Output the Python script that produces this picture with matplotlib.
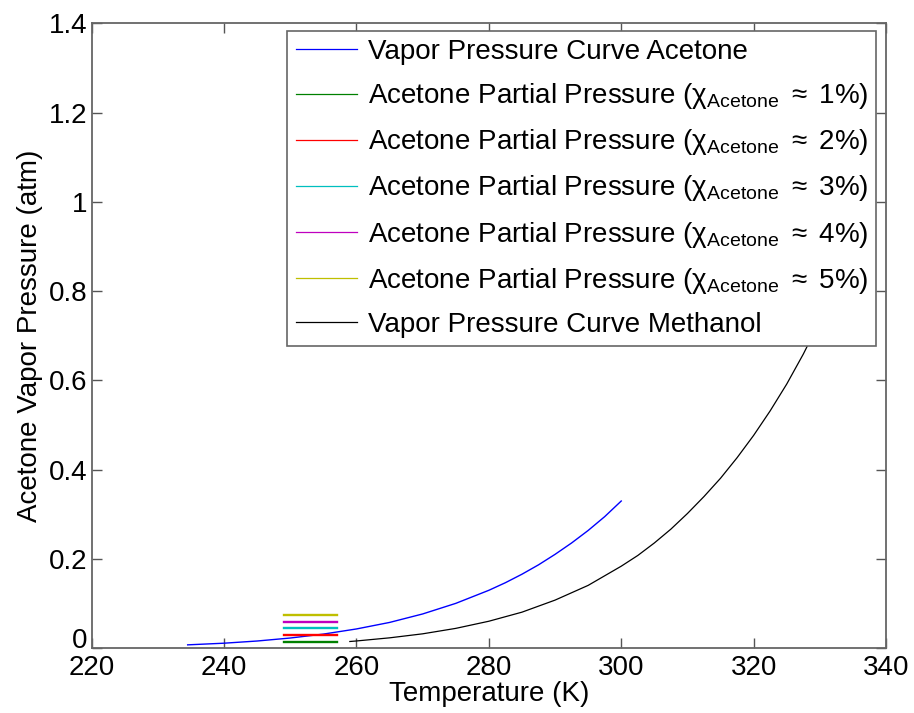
import matplotlib
matplotlib.use("Agg")
import matplotlib.pyplot as plt

plt.rcParams["font.family"] = ["Liberation Sans", "DejaVu Sans"]
plt.rcParams["mathtext.fontset"] = "custom"
plt.rcParams["mathtext.rm"] = "Liberation Sans"
plt.rcParams["mathtext.it"] = "Liberation Sans"

# acetone vapor pressure curve (K, atm)
acetone_T = [234.5, 240, 245, 250, 255, 260, 265, 270, 275, 280, 282.5, 285,
             287.5, 290, 292.5, 295, 297.5, 300]
acetone_P = [0.0078, 0.0115, 0.0164, 0.0231, 0.0319, 0.0434, 0.058, 0.077,
             0.1007, 0.130, 0.147, 0.166, 0.187, 0.2105, 0.236, 0.264, 0.295, 0.330]

# methanol vapor pressure curve (continues under the legend)
methanol_T = [259, 260, 265, 270, 275, 280, 285, 290, 295, 300, 302.5, 305,
              307.5, 310, 312.5, 315, 317.5, 320, 322.5, 325, 327.5, 330, 333.5, 337]
methanol_P = [0.0153, 0.0165, 0.0235, 0.0325, 0.0447, 0.0607, 0.081, 0.108,
              0.141, 0.184, 0.208, 0.236, 0.267, 0.302, 0.340, 0.381, 0.427,
              0.477, 0.532, 0.592, 0.659, 0.733, 0.845, 0.973]

# partial pressure segments
partial_T = [249, 257]
partial_P = [0.015, 0.030, 0.045, 0.060, 0.075]
partial_pct = [1, 2, 3, 4, 5]
partial_colors = ["#008000", "#ff0000", "#00bfbf", "#bf00bf", "#bfbf00"]

x_ticks = [220, 240, 260, 280, 300, 320, 340]
y_ticks = [0, 0.2, 0.4, 0.6, 0.8, 1.0, 1.2, 1.4]
y_ticklabels = ["0", "0.2", "0.4", "0.6", "0.8", "1", "1.2", "1.4"]

fig = plt.figure(figsize=(9.14, 7.13), dpi=100)
ax = fig.add_axes([0.1003, 0.0907, 0.8691, 0.8766])

ax.plot(acetone_T, acetone_P, color="#0000ff", lw=1.0,
        label="Vapor Pressure Curve Acetone")
for p, pct, c in zip(partial_P, partial_pct, partial_colors):
    ax.plot(partial_T, [p, p], color=c, lw=1.7,
            label=r"Acetone Partial Pressure ($\mathrm{\chi_{Acetone}}$ $\approx$ %d%%)" % pct)
ax.plot(methanol_T, methanol_P, color="black", lw=0.9,
        label="Vapor Pressure Curve Methanol")

ax.set_xlim(220, 340)
ax.set_ylim(0, 1.4)
ax.set_xticks(x_ticks)
ax.set_yticks(y_ticks)
ax.set_yticklabels(y_ticklabels)
ax.tick_params(direction="in", length=7, width=1, color="#555555",
               labelsize=20, top=True, right=True, pad=3)
ax.tick_params(axis="x", pad=5)
for s in ax.spines.values():
    s.set_color("#666666")
    s.set_linewidth(1.3)

# keep the "0" clear of "220"
ax.get_yticklabels()[0].set_verticalalignment("baseline")

ax.set_xlabel("Temperature (K)", fontsize=20, labelpad=0)
ax.set_ylabel("Acetone Vapor Pressure (atm)", fontsize=20, labelpad=4)

leg = ax.legend(loc="upper right", bbox_to_anchor=(0.988, 0.988),
                borderaxespad=0, fontsize=20, fancybox=False,
                edgecolor="#666666", framealpha=1, handlelength=2.2,
                handletextpad=0.4, labelspacing=0.58, borderpad=0.3)
leg.get_frame().set_linewidth(1.2)
for h in leg.get_lines():
    h.set_linewidth(0.9)

fig.savefig("out.png", dpi=100)
